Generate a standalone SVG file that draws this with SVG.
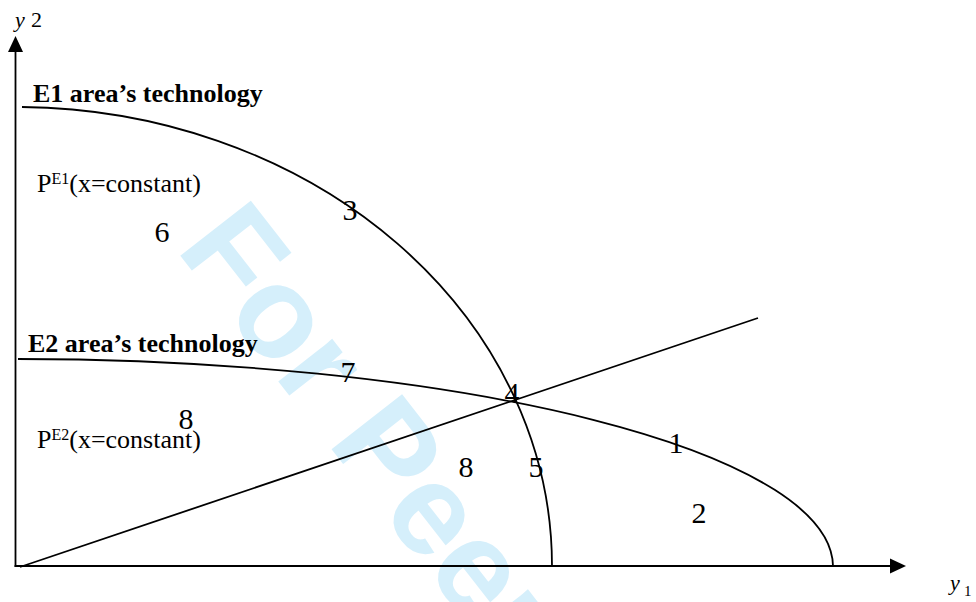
<svg xmlns="http://www.w3.org/2000/svg" width="976" height="602" viewBox="0 0 976 602">
<style>
.ln{fill:none;stroke:#000;stroke-width:1.8}
.t{font-family:"Liberation Serif","Times New Roman",serif;fill:#000}
.b{font-weight:bold;font-size:26px}
.r{font-size:26px}
.d{font-size:30px;text-anchor:middle}
.wm{font-family:"Liberation Sans",Arial,sans-serif;font-weight:bold;font-size:130px;fill:#d5effb}
</style>
<rect width="976" height="602" fill="#fff"/>
<g id="watermark">
<text class="wm" transform="translate(175,249) rotate(52)">For Peer</text>
</g>
<g id="axes">
<line class="ln" x1="15.5" y1="567" x2="15.5" y2="50"/>
<polygon points="15.5,36 8,52 23,52" fill="#000"/>
<line class="ln" x1="14.6" y1="566" x2="892" y2="566"/>
<polygon points="906,566 890,558.5 890,573.5" fill="#000"/>
<text class="t" x="15" y="27" font-size="22"><tspan font-style="italic">y</tspan><tspan x="31">2</tspan></text>
<text class="t" x="950" y="590" font-size="22"><tspan font-style="italic">y</tspan><tspan x="964" y="596" font-size="15">1</tspan></text>
</g>
<g id="connectors">
<path id="e1-curve" class="ln" d="M22,107 A536.5,459 0 0 1 552,566"/>
<path id="e2-curve" class="ln" d="M18,359 A817.5,208 0 0 1 833,566"/>
<path id="ray" class="ln" d="M20,567 L758,318"/>
</g>
<g id="e1-label">
<text class="t b" x="33" y="102">E1 area’s technology</text>
<text class="t r" x="37" y="192">P<tspan font-size="16" dy="-8">E1</tspan><tspan dy="8">(x=constant)</tspan></text>
</g>
<g id="e2-label">
<text class="t b" x="28" y="352">E2 area’s technology</text>
<text class="t r" x="37" y="448">P<tspan font-size="16" dy="-8">E2</tspan><tspan dy="8">(x=constant)</tspan></text>
</g>
<g id="regions">
<text class="t d" x="350" y="220">3</text>
<text class="t d" x="162" y="242" font-size="27">6</text>
<text class="t d" x="348" y="382">7</text>
<text class="t d" x="512" y="403" font-size="27">4</text>
<text class="t d" x="186" y="429">8</text>
<text class="t d" x="466" y="477">8</text>
<text class="t d" x="536" y="477">5</text>
<text class="t d" x="676" y="453">1</text>
<text class="t d" x="699" y="523">2</text>
</g>
</svg>
